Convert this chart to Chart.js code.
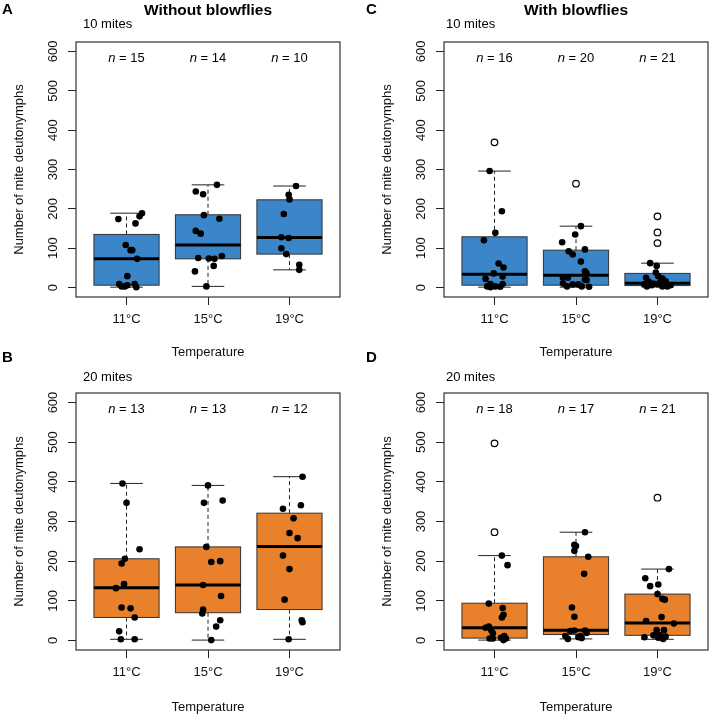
<!DOCTYPE html>
<html lang="en">
<head>
<meta charset="UTF-8">
<title>Mite deutonymphs by temperature</title>
<script src="https://cdn.jsdelivr.net/npm/chart.js@4.4.1/dist/chart.umd.min.js"></script>
<style>
  body { margin: 0; background: #fff; }
  #wrap { position: relative; width: 709px; height: 718px; overflow: hidden; }
  canvas { position: absolute; }
</style>
</head>
<body>
<div id="wrap">
  <canvas id="panelA"></canvas>
  <canvas id="panelC"></canvas>
  <canvas id="panelB"></canvas>
  <canvas id="panelD"></canvas>
</div>
<script>
  const temps  = ['11°C', '15°C', '19°C'];
  const yTicks = [0, 100, 200, 300, 400, 500, 600];

  // box stats per temperature: [lower whisker, Q1, median, Q3, upper whisker]
  // points: [jitter offset, value]

  // A - 10 mites, without blowflies
  const nA   = [15, 14, 10];
  const boxA = [[1, 6, 73, 135, 189], [3, 73, 108, 185, 261], [45, 85, 127, 223, 258]];
  const ptsA = [
    [[-0.10,174],[0.19,189],[0.16,181],[0.11,163],[-0.01,108],[0.05,95],[0.07,95],[0.13,73],[0.01,29],[-0.09,9],[-0.06,3],[-0.02,3],[0.01,6],[0.10,9],[0.12,1]],
    [[0.11,261],[-0.15,244],[-0.06,237],[-0.05,184],[0.14,175],[-0.15,144],[-0.09,137],[-0.12,75],[0.01,74],[0.08,73],[0.17,80],[0.07,55],[-0.16,41],[-0.02,3]],
    [[0.08,258],[-0.01,236],[0,224],[-0.07,187],[-0.10,128],[-0.01,126],[-0.10,100],[-0.04,85],[0.12,58],[0.12,45]]
  ];
  const outA = [[], [], []];

  // C - 10 mites, with blowflies
  const nC   = [16, 20, 21];
  const boxC = [[1, 6, 34, 129, 296], [1, 6, 31, 95, 156], [2, 5, 11, 36, 62]];
  const ptsC = [
    [[-0.06,296],[0.09,194],[0.01,139],[-0.13,120],[0.05,61],[0.11,51],[-0.01,36],[-0.11,22],[0.10,28],[-0.05,9],[-0.09,3],[-0.05,1],[0.01,3],[0.07,2],[0.10,9]],
    [[0.06,156],[-0.01,135],[-0.17,115],[-0.09,92],[-0.04,84],[0.11,97],[0.06,66],[0.11,41],[0.13,36],[-0.16,25],[-0.10,25],[0.11,20],[-0.16,10],[-0.11,3],[-0.04,8],[0.03,8],[0.07,3],[0.13,19],[0.16,2]],
    [[-0.09,62],[-0.01,55],[-0.02,38],[0.01,29],[0.06,23],[-0.14,25],[0.10,16],[-0.16,8],[-0.13,3],[-0.07,6],[0,8],[0.06,3],[0.12,3],[0.16,6],[0.08,9],[0.03,13],[-0.11,15],[-0.05,10]]
  ];
  const outC = [[369], [264], [181, 140, 113]];

  // B - 20 mites, without blowflies
  const nB   = [13, 13, 12];
  const boxB = [[3, 58, 133, 206, 396], [1, 70, 140, 236, 391], [3, 78, 237, 321, 413]];
  const ptsB = [
    [[-0.05,396],[0,347],[0.16,230],[-0.02,206],[-0.06,194],[-0.03,142],[-0.13,132],[-0.06,83],[0.05,81],[0.10,58],[-0.09,23],[-0.07,3],[0.10,3]],
    [[0,391],[-0.05,347],[0.18,353],[-0.02,236],[0.04,198],[0.15,200],[-0.06,140],[0.16,112],[-0.06,78],[-0.07,68],[0.15,51],[0.10,35],[0.04,1]],
    [[0.16,413],[-0.08,332],[0.14,341],[0.05,308],[0,271],[0.10,258],[-0.08,214],[0,180],[-0.06,103],[0.15,51],[0.16,46],[-0.01,3]]
  ];
  const outB = [[], [], []];

  // D - 20 mites, with blowflies
  const nD   = [18, 17, 21];
  const boxD = [[1, 6, 32, 94, 214], [4, 15, 26, 211, 273], [3, 13, 44, 117, 180]];
  const ptsD = [
    [[0.09,214],[0.16,190],[-0.07,93],[0.10,82],[0.11,65],[0.09,58],[-0.07,35],[-0.04,26],[-0.02,18],[-0.06,5],[-0.02,5],[0.08,7],[0.11,1],[0.14,5],[0.12,11],[-0.11,32]],
    [[0.11,273],[-0.02,241],[0,238],[-0.02,226],[0.15,211],[0.10,168],[-0.05,83],[-0.02,60],[-0.07,24],[-0.02,25],[0.11,25],[0.13,19],[-0.13,11],[-0.10,4],[0.03,8],[0.05,11],[0.07,6]],
    [[0.14,180],[-0.15,157],[-0.09,137],[0.01,141],[0,117],[0.06,105],[0.09,103],[0.05,59],[-0.14,49],[0.20,43],[-0.01,26],[0.08,26],[-0.16,8],[-0.02,13],[0.03,13],[0.06,6],[0.07,4],[0.01,7],[-0.05,13],[0.10,10]]
  ];
  const outD = [[497, 273], [], [360]];

  const BLUE   = '#3a86c8';
  const ORANGE = '#e8802c';
  const FONT   = "'Liberation Sans', Arial, Helvetica, sans-serif";

  // layout of the four panels (canvas box + chart area inside it)
  const panels = [
    { id: 'panelA', left: 0,   top: 0,   w: 354, h: 360, area: [76, 42, 340, 297], letter: 'A', letterX: 2,  letterY: 10,
      header: 'Without blowflies', headerY: 11, sub: '10 mites', subX: 83, subY: 24, titleBottom: 0,
      n: nA, box: boxA, pts: ptsA, out: outA, fill: BLUE },
    { id: 'panelC', left: 354, top: 0,   w: 355, h: 360, area: [90, 42, 354, 297], letter: 'C', letterX: 12, letterY: 10,
      header: 'With blowflies', headerY: 11, sub: '10 mites', subX: 92, subY: 24, titleBottom: 0,
      n: nC, box: boxC, pts: ptsC, out: outC, fill: BLUE },
    { id: 'panelB', left: 0,   top: 345, w: 354, h: 373, area: [76, 48, 340, 305], letter: 'B', letterX: 2,  letterY: 13,
      header: '', headerY: 0, sub: '20 mites', subX: 83, subY: 32, titleBottom: 3,
      n: nB, box: boxB, pts: ptsB, out: outB, fill: ORANGE },
    { id: 'panelD', left: 354, top: 345, w: 355, h: 373, area: [90, 48, 354, 305], letter: 'D', letterX: 12, letterY: 13,
      header: '', headerY: 0, sub: '20 mites', subX: 92, subY: 32, titleBottom: 3,
      n: nD, box: boxD, pts: ptsD, out: outD, fill: ORANGE }
  ];

  // boxes are drawn under the points, frame and labels on top
  const boxPlugin = {
    id: 'boxes',
    beforeDatasetsDraw(chart, args, opts) {
      const {ctx, scales: {x, y}} = chart;
      const p = opts.panel;
      const half = x.getPixelForValue(1.4) - x.getPixelForValue(1);
      const capHalf = x.getPixelForValue(1.2) - x.getPixelForValue(1);
      ctx.save();
      p.box.forEach((b, i) => {
        const cx = x.getPixelForValue(i + 1);
        const [lo, q1, med, q3, hi] = b.map(v => y.getPixelForValue(v));
        // whiskers
        ctx.strokeStyle = '#222';
        ctx.lineWidth = 1;
        ctx.setLineDash([4, 3]);
        ctx.beginPath();
        ctx.moveTo(cx, q3); ctx.lineTo(cx, hi);
        ctx.moveTo(cx, q1); ctx.lineTo(cx, lo);
        ctx.stroke();
        ctx.setLineDash([]);
        ctx.beginPath();
        ctx.moveTo(cx - capHalf, hi); ctx.lineTo(cx + capHalf, hi);
        ctx.moveTo(cx - capHalf, lo); ctx.lineTo(cx + capHalf, lo);
        ctx.stroke();
        // box
        ctx.fillStyle = p.fill;
        ctx.fillRect(cx - half, q3, half * 2, q1 - q3);
        ctx.strokeStyle = '#333';
        ctx.strokeRect(cx - half, q3, half * 2, q1 - q3);
        // median
        ctx.strokeStyle = '#000';
        ctx.lineWidth = 3;
        ctx.beginPath();
        ctx.moveTo(cx - half, med); ctx.lineTo(cx + half, med);
        ctx.stroke();
      });
      ctx.restore();
    },
    afterDraw(chart, args, opts) {
      const {ctx, chartArea: a, scales: {x, y}} = chart;
      const p = opts.panel;
      ctx.save();
      ctx.strokeStyle = '#333';
      ctx.lineWidth = 1.2;
      ctx.strokeRect(a.left, a.top, a.right - a.left, a.bottom - a.top);

      ctx.fillStyle = '#000';
      ctx.textBaseline = 'middle';
      // n labels
      const ny = y.getPixelForValue(582);
      p.n.forEach((n, i) => {
        const cx = x.getPixelForValue(i + 1);
        ctx.font = 'italic 13px ' + FONT;
        const w1 = ctx.measureText('n').width;
        ctx.font = '13px ' + FONT;
        const rest = ' = ' + n;
        const w2 = ctx.measureText(rest).width;
        const x0 = cx - (w1 + w2) / 2;
        ctx.textAlign = 'left';
        ctx.font = 'italic 13px ' + FONT;
        ctx.fillText('n', x0, ny);
        ctx.font = '13px ' + FONT;
        ctx.fillText(rest, x0 + w1, ny);
      });

      // panel letter, header and sub title
      ctx.textAlign = 'left';
      ctx.font = 'bold 15px ' + FONT;
      ctx.fillText(p.letter, p.letterX, p.letterY);
      if (p.header) {
        ctx.textAlign = 'center';
        ctx.font = 'bold 15.5px ' + FONT;
        ctx.fillText(p.header, (a.left + a.right) / 2, p.headerY);
      }
      ctx.textAlign = 'left';
      ctx.font = '13px ' + FONT;
      ctx.fillText(p.sub, p.subX, p.subY);
      ctx.restore();
    }
  };

  const tickGrid = { display: true, drawOnChartArea: false, drawTicks: true, tickLength: 8, color: '#222', lineWidth: 1 };

  panels.forEach(p => {
    const cv = document.getElementById(p.id);
    cv.width = p.w; cv.height = p.h;
    cv.style.left = p.left + 'px';
    cv.style.top = p.top + 'px';

    const filled = [];
    p.pts.forEach((grp, i) => grp.forEach(([dx, v]) => filled.push({x: i + 1 + dx, y: v})));
    const outliers = [];
    p.out.forEach((grp, i) => grp.forEach(v => outliers.push({x: i + 1, y: v})));

    new Chart(cv, {
      type: 'scatter',
      data: {
        datasets: [
          { data: filled, pointRadius: 3.3, pointBackgroundColor: '#000', pointBorderWidth: 0 },
          { data: outliers, pointRadius: 3.3, pointBackgroundColor: '#fff', pointBorderColor: '#000', pointBorderWidth: 1.2 }
        ]
      },
      options: {
        responsive: false,
        animation: false,
        events: [],
        layout: {
          autoPadding: false,
          padding: { left: p.area[0] - 76, top: p.area[1], right: p.w - p.area[2], bottom: 0 }
        },
        plugins: {
          legend: { display: false },
          tooltip: { enabled: false },
          boxes: { panel: p }
        },
        scales: {
          x: {
            type: 'linear', min: 0.38, max: 3.62,
            afterBuildTicks: s => { s.ticks = temps.map((t, i) => ({ value: i + 1 })); },
            afterFit: s => { s.height = p.h - p.area[3]; },
            ticks: { callback: v => temps[v - 1], font: { size: 13, family: FONT }, color: '#111', padding: 7, maxRotation: 0, autoSkip: false },
            grid: tickGrid,
            border: { display: false },
            title: { display: true, text: 'Temperature', font: { size: 13, family: FONT }, color: '#111', padding: { top: 0, bottom: p.titleBottom } }
          },
          y: {
            type: 'linear', min: -24, max: 624,
            afterBuildTicks: s => { s.ticks = yTicks.map(v => ({ value: v })); },
            afterFit: s => { s.width = 76; },
            ticks: { font: { size: 13, family: FONT }, color: '#111', minRotation: 90, maxRotation: 90, crossAlign: 'center', padding: 4 },
            grid: tickGrid,
            border: { display: false },
            title: { display: true, text: 'Number of mite deutonymphs', font: { size: 13, family: FONT }, color: '#111', padding: { top: 12, bottom: 0 } }
          }
        }
      },
      plugins: [boxPlugin]
    });
  });
</script>
</body>
</html>
